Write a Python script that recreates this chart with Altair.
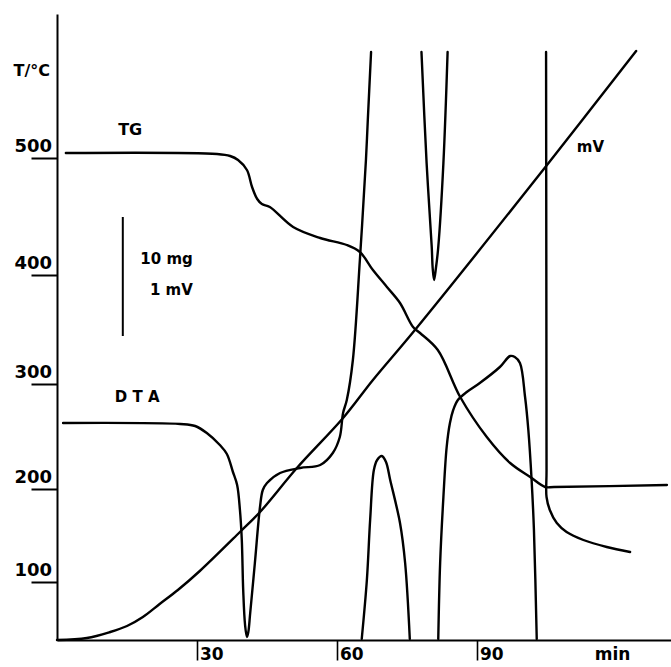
import altair as alt
import pandas as pd

# ---- data (time in min, vertical position in chart units above the time axis) ----
mv_t = [0, 6.4, 11.4, 15.0, 18.4, 22.0, 25.9, 30.6, 39.2, 43.5, 51.4, 61.3, 67.7, 76.7, 105.0, 124.1]
mv_h = [0, 2, 8, 14, 23, 36, 50, 69, 108, 128, 172, 222, 260, 310, 475, 589]

tg_t = [1.9, 34.3, 37.1, 38.8, 40.7, 41.8, 42.9, 43.9, 45.6, 50.6, 56.4, 62.1, 64.9, 67.7,
        70.7, 73.5, 76.3, 77.8, 81.6, 86.4, 92.1, 97.1, 101.4, 104.6, 106.5, 130.7]
tg_h = [487, 486, 484, 480, 470, 453, 441, 436, 433, 413, 402, 395, 388, 370,
        353, 337, 313, 307, 290, 243, 203, 177, 163, 153, 153, 155]

dta1_t = [1.3, 26.4, 29.6, 32.1, 34.9, 36.4, 37.7, 38.6, 39.2, 39.6, 39.9, 40.3, 40.7, 41.0,
          41.4, 42.4, 43.5, 44.1, 45.0, 47.8, 52.1, 56.4, 59.1, 60.6, 61.3, 62.1, 63.4,
          64.9, 66.2, 66.6, 67.3]
dta1_h = [217, 216, 214, 207, 195, 186, 168, 155, 130, 100, 50, 15, 3, 8,
          27, 77, 133, 150, 157, 167, 172, 175, 187, 203, 227, 240, 280,
          380, 480, 520, 588]

dta2_t = [78.1, 79.2, 80.3, 80.5, 80.8, 81.2, 81.7, 82.8, 83.7]
dta2_h = [588, 477, 393, 372, 360, 372, 393, 477, 588]

dta3_t = [65.3, 66.4, 67.1, 67.9, 68.6, 69.6, 70.5, 71.4, 73.5, 74.6, 75.6]
dta3_h = [1, 60, 120, 170, 180, 184, 178, 160, 117, 77, 1]

dta4_t = [81.7, 82.1, 82.8, 83.5, 84.2, 84.9, 85.9, 87.8, 90.6, 94.9, 97.1, 98.1, 99.2,
          100.3, 101.0, 101.7, 102.2, 102.8]
dta4_h = [1, 77, 143, 193, 217, 230, 240, 248, 257, 273, 284, 283, 277,
          243, 210, 160, 110, 1]

dta5_t = [104.8, 104.9, 104.9, 105.6, 107.1, 109.2, 112.8, 117.8, 122.8]
dta5_h = [588, 170, 143, 130, 117, 108, 100, 93, 88]

# axis ticks
y_tick_pos = [58, 151, 256, 365, 482]
y_tick_labels = ["100", "200", "300", "400", "500"]
x_tick_pos = [30, 60, 90]
x_tick_labels = ["30", "60", "90"]

# scale bar (10 mg / 1 mV)
bar_t = [14.1]
bar_h1 = [304]
bar_h2 = [423]

# ---- build tables ----
rows = []
def add(name, ts, hs):
    for i, (t, h) in enumerate(zip(ts, hs)):
        rows.append({"t": t, "h": h, "seg": name, "o": i})

add("mV", mv_t, mv_h)
add("TG", tg_t, tg_h)
add("DTA1", dta1_t, dta1_h)
add("DTA2", dta2_t, dta2_h)
add("DTA3", dta3_t, dta3_h)
add("DTA4", dta4_t, dta4_h)
add("DTA5", dta5_t, dta5_h)
lines_df = pd.DataFrame(rows)

X_MAX = 131.57
H_MAX = 626
FONT = "DejaVu Sans"

xscale = alt.Scale(domain=[0, X_MAX], nice=False, zero=False)
yscale = alt.Scale(domain=[0, H_MAX], nice=False, zero=False)
xaxis = alt.Axis(values=x_tick_pos, labels=False, title=None, grid=False,
                 tickSize=20, tickWidth=1.6, tickColor="black",
                 domainColor="black", domainWidth=2)
yaxis = alt.Axis(values=y_tick_pos, labels=False, title=None, grid=False,
                 tickSize=26, tickWidth=2, tickColor="black",
                 domainColor="black", domainWidth=2)

X = alt.X("t:Q", scale=xscale, axis=xaxis)
Y = alt.Y("h:Q", scale=yscale, axis=yaxis)

lines = alt.Chart(lines_df).mark_line(color="black", strokeWidth=2.4,
                                      interpolate="catmull-rom",
                                      strokeJoin="round", strokeCap="round").encode(
    x=X, y=Y, detail="seg:N", order="o:Q")

bar_df = pd.DataFrame({"t": bar_t, "h": bar_h1, "h2": bar_h2})
bar = alt.Chart(bar_df).mark_rule(color="black", strokeWidth=2).encode(
    x=X, y=Y, y2="h2:Q")

ylab_df = pd.DataFrame({"t": [0] * len(y_tick_pos), "h": y_tick_pos, "text": y_tick_labels})
ylabs = alt.Chart(ylab_df).mark_text(font=FONT, fontWeight="bold", fontSize=18,
                                     align="right", baseline="alphabetic",
                                     dx=-5, dy=-6, color="black").encode(
    x=X, y=Y, text="text:N")

xlab_df = pd.DataFrame({"t": x_tick_pos + [114.6], "h": [0] * 4,
                        "text": x_tick_labels + ["min"]})
xlabs = alt.Chart(xlab_df).mark_text(font=FONT, fontWeight="bold", fontSize=17,
                                     align="left", baseline="alphabetic",
                                     dx=3, dy=20, color="black").encode(
    x=X, y=Y, text="text:N")

left_notes = pd.DataFrame({"t": [13.1, 12.4, 111.4], "h": [505, 238, 488],
                           "text": ["TG", "D T A", "mV"], "s": [16, 15, 15]})
notes_l = alt.Chart(left_notes).mark_text(font=FONT, fontWeight="bold",
                                          align="left", baseline="alphabetic",
                                          color="black").encode(
    x=X, y=Y, text="text:N", size=alt.Size("s:Q", scale=None, legend=None))

right_notes = pd.DataFrame({"t": [29.1, 29.1, -1.5], "h": [376, 345, 564],
                            "text": ["10 mg", "1 mV", "T/°C"], "s": [15, 15, 16]})
notes_r = alt.Chart(right_notes).mark_text(font=FONT, fontWeight="bold",
                                           align="right", baseline="alphabetic",
                                           color="black").encode(
    x=X, y=Y, text="text:N", size=alt.Size("s:Q", scale=None, legend=None))

chart = alt.layer(lines, bar, ylabs, xlabs, notes_l, notes_r).properties(
    width=614, height=626,
    padding={"left": 57, "top": 14, "right": 0, "bottom": 27},
    autosize=alt.AutoSizeParams(type="none"),
    background="white",
).configure_view(stroke=None)

chart.save("out.html", embed_options={"renderer": "svg", "actions": False})
